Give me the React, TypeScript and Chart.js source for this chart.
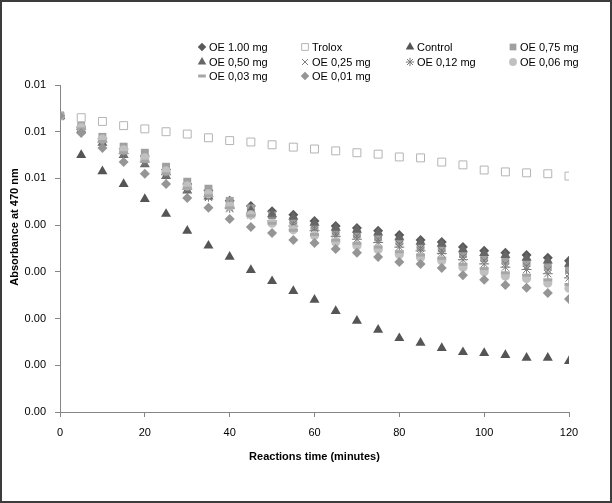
import React, { useEffect, useRef } from 'react';
import { Chart, registerables } from 'chart.js';
import { drawPoint } from 'chart.js/helpers';

Chart.register(...registerables);

const TIMES = [0, 5, 10, 15, 20, 25, 30, 35, 40, 45, 50, 55, 60, 65, 70, 75, 80, 85, 90, 95, 100, 105, 110, 115, 120];

const SERIES_LABELS = ['OE 1.00 mg', 'Trolox', 'Control', 'OE 0,75 mg', 'OE 0,50 mg', 'OE 0,25 mg', 'OE 0,12 mg', 'OE 0,06 mg', 'OE 0,03 mg', 'OE 0,01 mg'];

const OE_1_00 = [0.00634, 0.0061, 0.00585, 0.00563, 0.00548, 0.00519, 0.00488, 0.00474, 0.00452, 0.00441, 0.0043, 0.00422, 0.00409, 0.00398, 0.00394, 0.00388, 0.00379, 0.00368, 0.00364, 0.00353, 0.00345, 0.00341, 0.00336, 0.0033, 0.00324];
const TROLOX = [0.00634, 0.0063, 0.00622, 0.00613, 0.00606, 0.006, 0.00595, 0.00587, 0.00581, 0.00578, 0.00572, 0.00567, 0.00563, 0.00559, 0.00555, 0.00552, 0.00546, 0.00544, 0.00535, 0.00529, 0.00518, 0.00514, 0.00512, 0.0051, 0.00505];
const CONTROL = [0.00634, 0.0055, 0.00515, 0.00488, 0.00456, 0.00424, 0.00388, 0.00356, 0.00332, 0.00304, 0.0028, 0.00259, 0.0024, 0.00216, 0.00195, 0.00176, 0.00158, 0.00148, 0.00137, 0.00128, 0.00126, 0.00122, 0.00116, 0.00116, 0.00109];
const OE_0_75 = [0.00634, 0.00612, 0.00589, 0.00568, 0.00555, 0.00525, 0.00493, 0.00478, 0.00452, 0.00436, 0.00421, 0.00409, 0.00397, 0.00386, 0.00381, 0.00374, 0.00365, 0.00355, 0.0035, 0.00338, 0.0033, 0.00324, 0.00319, 0.00311, 0.00304];
const OE_0_50 = [0.00634, 0.00604, 0.00576, 0.0055, 0.0053, 0.00505, 0.00474, 0.00461, 0.00441, 0.00431, 0.00423, 0.00418, 0.00405, 0.00394, 0.0039, 0.00384, 0.00374, 0.00364, 0.0036, 0.00348, 0.0034, 0.00336, 0.0033, 0.00324, 0.00317];
const OE_0_25 = [0.00634, 0.00605, 0.00577, 0.00552, 0.00533, 0.00507, 0.00476, 0.00459, 0.00435, 0.00427, 0.00414, 0.00403, 0.00393, 0.00381, 0.00376, 0.00369, 0.00359, 0.0035, 0.00345, 0.00332, 0.00324, 0.00317, 0.00312, 0.00304, 0.00295];
const OE_0_12 = [0.00634, 0.00605, 0.00578, 0.00553, 0.00535, 0.00508, 0.00477, 0.00461, 0.00437, 0.00422, 0.00409, 0.00398, 0.00388, 0.00376, 0.0037, 0.00363, 0.00353, 0.00345, 0.00339, 0.00326, 0.00317, 0.0031, 0.00305, 0.00296, 0.00287];
const OE_0_06 = [0.00634, 0.00609, 0.00584, 0.00561, 0.00544, 0.00516, 0.00484, 0.00467, 0.00441, 0.00422, 0.00404, 0.0039, 0.00378, 0.00364, 0.00356, 0.00348, 0.00337, 0.00331, 0.00324, 0.0031, 0.003, 0.00291, 0.00286, 0.00276, 0.00265];
const OE_0_03 = [0.00634, 0.00606, 0.00579, 0.00555, 0.00537, 0.0051, 0.00479, 0.00463, 0.00437, 0.0042, 0.00404, 0.00389, 0.0038, 0.00368, 0.00361, 0.00353, 0.00343, 0.00336, 0.00329, 0.00316, 0.00307, 0.00298, 0.00293, 0.00283, 0.00273];
const OE_0_01 = [0.00634, 0.00597, 0.00565, 0.00535, 0.0051, 0.00488, 0.00458, 0.00437, 0.00413, 0.00396, 0.00383, 0.00368, 0.00362, 0.00349, 0.00341, 0.00332, 0.00321, 0.00317, 0.00308, 0.00293, 0.00283, 0.00272, 0.00266, 0.00255, 0.00242];

const SERIES_VALUES = [OE_1_00, TROLOX, CONTROL, OE_0_75, OE_0_50, OE_0_25, OE_0_12, OE_0_06, OE_0_03, OE_0_01];

const Y_TICK_LABELS = ['0.00', '0.00', '0.00', '0.00', '0.00', '0.01', '0.01', '0.01'];
const X_TITLE = 'Reactions time (minutes)';
const Y_TITLE = 'Absorbance at 470 nm';

type Style = { pointStyle: any; radius: number; bg: string; border: string; bw: number };
const STYLES: Style[] = [
  { pointStyle: 'rectRot', radius: 5, bg: '#595959', border: '#595959', bw: 0 },
  { pointStyle: 'rect', radius: 5.6, bg: '#ffffff', border: '#b4b4b4', bw: 1 },
  { pointStyle: 'triangle', radius: 5.8, bg: '#555555', border: '#555555', bw: 0 },
  { pointStyle: 'rect', radius: 5.6, bg: '#a0a0a0', border: '#a0a0a0', bw: 0 },
  { pointStyle: 'triangle', radius: 5.8, bg: '#666666', border: '#666666', bw: 0 },
  { pointStyle: 'crossRot', radius: 5, bg: '#7a7a7a', border: '#7a7a7a', bw: 1 },
  { pointStyle: 'star', radius: 5, bg: '#7a7a7a', border: '#7a7a7a', bw: 1 },
  { pointStyle: 'circle', radius: 4.6, bg: '#c0c0c0', border: '#c0c0c0', bw: 0 },
  { pointStyle: 'line', radius: 4.5, bg: '#a6a6a6', border: '#a6a6a6', bw: 3 },
  { pointStyle: 'rectRot', radius: 5, bg: '#959595', border: '#959595', bw: 0 },
];

const LEGEND_COL_X = [200, 303, 408, 511];
const LEGEND_ROW_Y = [45, 60, 74];
const FONT = '"Liberation Sans", Arial, sans-serif';

const overlayPlugin = {
  id: 'overlay',
  afterDraw(chart: any) {
    const ctx = chart.ctx as CanvasRenderingContext2D;
    const area = chart.chartArea;
    ctx.save();
    chart.data.datasets.forEach((ds: any, i: number) => {
      const col = i % 4;
      const row = Math.floor(i / 4);
      const x = LEGEND_COL_X[col];
      const y = LEGEND_ROW_Y[row];
      const st = STYLES[i];
      ctx.fillStyle = st.bg;
      ctx.strokeStyle = st.border;
      ctx.lineWidth = st.bw;
      drawPoint(ctx, { pointStyle: st.pointStyle, radius: st.radius * 0.85, rotation: 0, borderWidth: st.bw } as any, x, y);
      ctx.fillStyle = '#000';
      ctx.font = `11px ${FONT}`;
      ctx.textBaseline = 'middle';
      ctx.textAlign = 'left';
      ctx.fillText(ds.label, x + 7, y + 0.5);
    });
    ctx.font = `bold 11px ${FONT}`;
    ctx.fillStyle = '#000';
    ctx.textAlign = 'center';
    ctx.textBaseline = 'middle';
    ctx.fillText(X_TITLE, (area.left + area.right) / 2, 455);
    ctx.translate(13, 225);
    ctx.rotate(-Math.PI / 2);
    ctx.fillText(Y_TITLE, 0, 0);
    ctx.restore();
  },
};

export default function App() {
  const ref = useRef<HTMLCanvasElement>(null);
  useEffect(() => {
    if (!ref.current) return;
    Chart.defaults.font.family = FONT;
    Chart.defaults.font.size = 11;
    Chart.defaults.color = '#000';
    const n = SERIES_VALUES.length;
    const datasets = SERIES_VALUES.map((vals, i) => ({
      label: SERIES_LABELS[i],
      data: vals.map((v, j) => ({ x: TIMES[j], y: v })),
      pointStyle: STYLES[i].pointStyle,
      pointRadius: STYLES[i].radius,
      pointHoverRadius: STYLES[i].radius,
      pointBackgroundColor: STYLES[i].bg,
      pointBorderColor: STYLES[i].border,
      pointBorderWidth: STYLES[i].bw,
      backgroundColor: STYLES[i].bg,
      borderColor: STYLES[i].border,
      showLine: false,
      order: n - i,
    }));
    const chart = new Chart(ref.current, {
      type: 'scatter',
      data: { datasets },
      options: {
        animation: false,
        responsive: false,
        maintainAspectRatio: false,
        layout: { padding: { left: 0, right: 41, top: 83, bottom: 0 } },
        plugins: { legend: { display: false }, tooltip: { enabled: false } },
        scales: {
          x: {
            type: 'linear',
            min: 0,
            max: 120,
            afterFit: (s: any) => { s.height = 89; },
            ticks: { stepSize: 20, padding: 9, color: '#000', font: { size: 11 } },
            grid: { drawOnChartArea: false, drawTicks: true, tickLength: 5, color: '#868686' },
            border: { display: true, color: '#868686' },
          },
          y: {
            type: 'linear',
            min: 0,
            max: 0.007,
            afterFit: (s: any) => { s.width = 58; },
            ticks: {
              stepSize: 0.001,
              padding: 9,
              color: '#000',
              font: { size: 11 },
              callback: (v: any) => Y_TICK_LABELS[Math.round(Number(v) / 0.001)],
            },
            grid: { drawOnChartArea: false, drawTicks: true, tickLength: 5, color: '#868686' },
            border: { display: true, color: '#868686' },
          },
        },
      },
      plugins: [overlayPlugin],
    });
    return () => chart.destroy();
  }, []);
  return (
    <div
      style={{
        position: 'absolute',
        left: 0,
        top: 0,
        width: 612,
        height: 503,
        boxSizing: 'border-box',
        border: '2px solid #3c3c3c',
        background: '#fff',
      }}
    >
      <canvas ref={ref} width={608} height={499} style={{ display: 'block' }} />
    </div>
  );
}
